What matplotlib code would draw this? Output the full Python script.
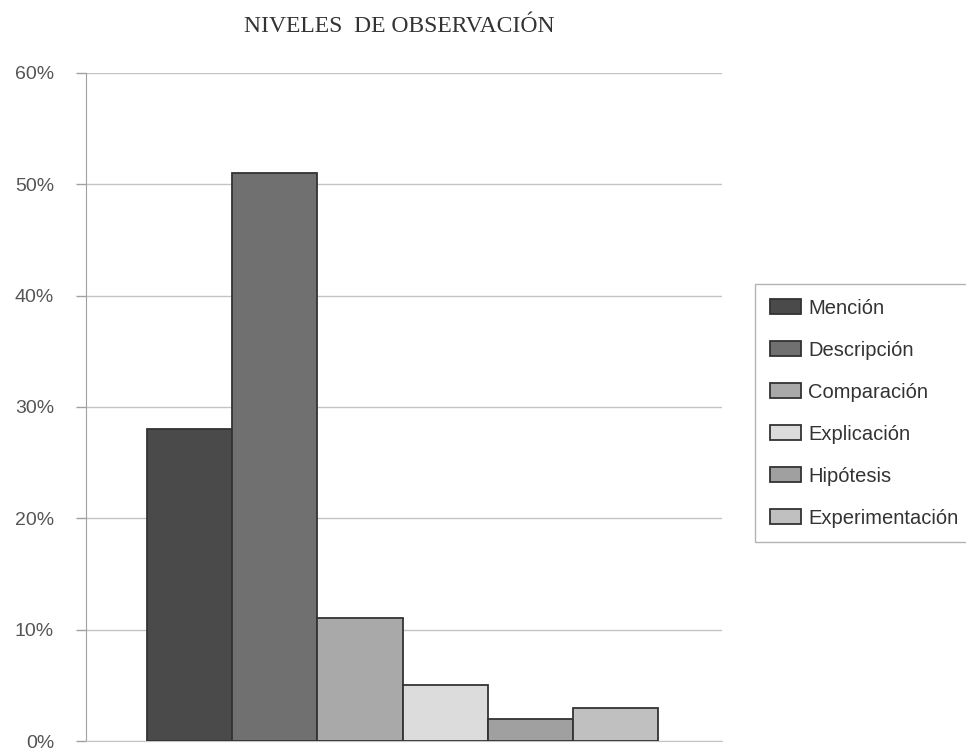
import numpy as np
import matplotlib.pyplot as plt
from matplotlib.ticker import FuncFormatter

# Data
categorias = ['Mención', 'Descripción', 'Comparación', 'Explicación', 'Hipótesis', 'Experimentación']
porcentajes = [28, 51, 11, 5, 2, 3]
colores = ['#4a4a4a', '#707070', '#a9a9a9', '#dcdcdc', '#a0a0a0', '#c0c0c0']
y_ticks = [0, 10, 20, 30, 40, 50, 60]

fig = plt.figure(figsize=(9.66, 7.5), dpi=100)
ax = fig.add_axes([0.089, 0.012, 0.658, 0.891])

n = len(categorias)
posiciones = np.arange(n) - (n - 1) / 2
for pos, val, col, lab in zip(posiciones, porcentajes, colores, categorias):
    ax.bar(pos, val, width=1.0, color=col, edgecolor='#333333', linewidth=1.3,
           label=lab, zorder=3)

ax.set_xlim(-n / 2 - 0.72, n / 2 + 0.75)
ax.set_ylim(0, 60)
ax.set_yticks(y_ticks)
ax.yaxis.set_major_formatter(FuncFormatter(lambda v, p: f'{v:.0f}%'))
ax.set_xticks([])
ax.grid(axis='y', color='#c4c4c4', linewidth=1.0, zorder=0)
ax.tick_params(axis='y', length=7, width=1, color='#a0a0a0', pad=16,
               labelsize=14, labelcolor='#555555')
for lbl in ax.get_yticklabels():
    lbl.set_fontfamily('Liberation Sans')

for s in ['top', 'right']:
    ax.spines[s].set_visible(False)
ax.spines['left'].set_color('#a0a0a0')
ax.spines['bottom'].set_color('#c4c4c4')

fig.text(0.413, 0.965, 'NIVELES  DE OBSERVACIÓN', ha='center', va='center',
         fontsize=17, family='Liberation Serif', color='#333333')

leg = fig.legend(loc='upper left', bbox_to_anchor=(0.782, 0.621), frameon=True,
                 fancybox=False, edgecolor='#a0a0a0',
                 prop={'family': 'Liberation Sans', 'size': 14.5},
                 handlelength=1.55, handleheight=0.75, handletextpad=0.35,
                 labelspacing=1.14, borderpad=0.72, borderaxespad=0)
leg.get_frame().set_linewidth(1.0)
for t in leg.get_texts():
    t.set_color('#333333')

fig.savefig('out.png', dpi=100)
